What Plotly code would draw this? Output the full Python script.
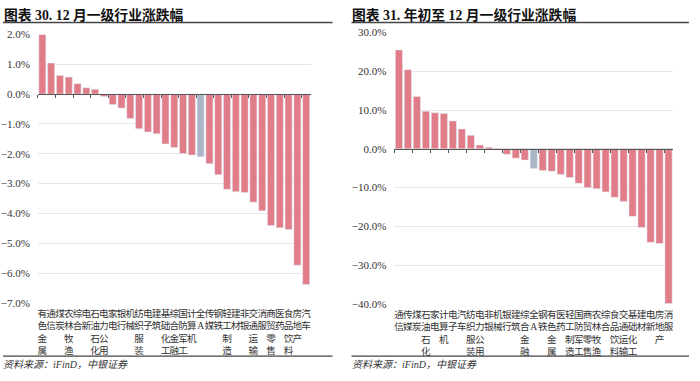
import plotly.graph_objects as go

# ---------------- data ----------------
left_categories = ["有色金属", "通信", "煤炭", "农林牧渔", "综合", "电新", "石油石化", "电力公用",
                   "家电", "银行", "机械", "纺织服装", "电子", "建筑", "基础化工", "综合金融",
                   "国防军工", "计算机", "全A", "传媒", "钢铁", "轻工制造", "建材", "非银",
                   "交通运输", "消服", "商贸零售", "医药", "食品饮料", "房地产", "汽车"]
left_values = [2.00, 1.04, 0.62, 0.57, 0.35, 0.21, 0.16, -0.08, -0.35, -0.47, -0.82, -1.16,
               -1.27, -1.33, -1.67, -1.79, -1.99, -2.04, -2.10, -2.33, -2.70, -3.19, -3.27,
               -3.30, -3.62, -3.91, -4.40, -4.48, -4.54, -5.73, -6.38]

right_categories = ["通信", "传媒", "煤炭", "石油石化", "家电", "计算机", "电子", "汽车",
                    "纺织服装", "电力公用", "非银", "机械", "银行", "建筑", "综合金融", "全A",
                    "钢铁", "有色金属", "医药", "轻工制造", "国防军工", "商贸零售", "农林牧渔",
                    "综合", "食品饮料", "交通运输", "基础化工", "建材", "电新", "房地产", "消服"]
right_values = [25.5, 20.4, 13.5, 9.7, 9.3, 9.1, 7.2, 5.1, 3.5, 1.0, 0.4, -0.1, -1.4, -2.4,
                -2.9, -5.1, -5.6, -5.8, -6.6, -7.4, -8.9, -10.0, -10.3, -11.1, -12.5, -13.6,
                -17.4, -20.3, -24.1, -24.4, -39.9]

left_title = "图表 30. 12 月一级行业涨跌幅"
right_title = "图表 31. 年初至 12 月一级行业涨跌幅"
source_text = "资料来源：iFinD，中银证券"
highlight = "全A"

left_yrange = [-7, 2]
left_dtick = 1
right_yrange = [-40, 30]
right_dtick = 10

# ---------------- style ----------------
W, H = 700, 381
RED = "#E07D88"
GREY = "#AAB5C8"
GRID = "#E6E6EC"
AXIS = "#555555"
TXT = "#333333"
FONT = "Liberation Serif, Noto Sans CJK SC, serif"

def px2x(p):
    return p / W

def px2y(p):
    return 1 - p / H

left_xdom = [px2x(38), px2x(311)]
left_ydom = [px2y(306.7), px2y(29.3)]
right_xdom = [px2x(395), px2x(674)]
right_ydom = [px2y(307.7), px2y(27.3)]


def vertical(label):
    return "<br>".join(list(label))


fig = go.Figure()


def add_panel(cats, vals, xa, xa2, ya, xdom, ydom, yrange, dtick):
    colors = [GREY if c == highlight else RED for c in cats]
    fig.add_trace(go.Bar(x=cats, y=vals, marker=dict(color=colors, line=dict(width=0)),
                         xaxis=xa, yaxis=ya, showlegend=False, hoverinfo="x+y"))
    # invisible copy used only to draw the category axis at y = 0
    fig.add_trace(go.Bar(x=cats, y=vals, marker=dict(color="rgba(0,0,0,0)"),
                         xaxis=xa2, yaxis=ya, showlegend=False, hoverinfo="skip"))
    zero_pos = ydom[0] + (ydom[1] - ydom[0]) * (0 - yrange[0]) / (yrange[1] - yrange[0])
    xname = "xaxis" + xa[1:]
    x2name = "xaxis" + xa2[1:]
    yname = "yaxis" + ya[1:]
    fig.layout[xname] = dict(domain=xdom, anchor=ya, type="category",
                             range=[-0.5, len(cats) - 0.5],
                             tickmode="array", tickvals=cats,
                             ticktext=[vertical(c) for c in cats],
                             tickangle=0, showline=False, ticks="", showgrid=False,
                             ticklabelstandoff=3,
                             tickfont=dict(family=FONT, size=9.6, color=TXT),
                             fixedrange=True)
    fig.layout[x2name] = dict(overlaying=xa, anchor="free", position=zero_pos,
                              type="category", range=[-0.5, len(cats) - 0.5],
                              showline=True, linecolor=AXIS, linewidth=1.3,
                              ticks="outside", tickson="boundaries", ticklen=3,
                              tickcolor=AXIS, tickwidth=1, showticklabels=False,
                              showgrid=False, fixedrange=True)
    fig.layout[yname] = dict(domain=ydom, anchor=xa, range=yrange, dtick=dtick,
                             tick0=0, tickformat=".1f", ticksuffix="%",
                             showgrid=True, gridcolor=GRID, gridwidth=1.2,
                             zeroline=False, showline=False, ticks="",
                             ticklabelstandoff=7,
                             tickfont=dict(family=FONT, size=11, color=TXT),
                             fixedrange=True)


add_panel(left_categories, left_values, "x", "x3", "y", left_xdom, left_ydom,
          left_yrange, left_dtick)
add_panel(right_categories, right_values, "x2", "x4", "y2", right_xdom, right_ydom,
          right_yrange, right_dtick)

annotations = [
    dict(text="<b>" + left_title + "</b>", x=px2x(2), y=px2y(9), xref="paper", yref="paper",
         xanchor="left", yanchor="middle", showarrow=False,
         font=dict(family=FONT, size=13.8, color="#111111")),
    dict(text="<b>" + right_title + "</b>", x=px2x(351), y=px2y(9), xref="paper",
         yref="paper", xanchor="left", yanchor="middle", showarrow=False,
         font=dict(family=FONT, size=13.8, color="#111111")),
    dict(text="<i>" + source_text + "</i>", x=px2x(1), y=px2y(370), xref="paper",
         yref="paper", xanchor="left", yanchor="middle", showarrow=False,
         font=dict(family=FONT, size=10, color=TXT)),
    dict(text="<i>" + source_text + "</i>", x=px2x(350), y=px2y(370), xref="paper",
         yref="paper", xanchor="left", yanchor="middle", showarrow=False,
         font=dict(family=FONT, size=10, color=TXT)),
]

shapes = []
for x0, x1 in [(3, 333), (352, 690)]:
    for yy in (17, 361.5):
        shapes.append(dict(type="line", xref="paper", yref="paper",
                           x0=px2x(x0), x1=px2x(x1), y0=px2y(yy), y1=px2y(yy),
                           line=dict(color="#444444", width=1.4)))

fig.update_layout(width=W, height=H, margin=dict(l=0, r=0, t=0, b=0),
                  paper_bgcolor="white", plot_bgcolor="white",
                  bargap=0.2, annotations=annotations, shapes=shapes,
                  font=dict(family=FONT, color=TXT))

fig.write_html("out.html",
               config={"displayModeBar": False},
               post_script="document.body.style.margin='0';"
                           "document.body.style.overflow='hidden';")
